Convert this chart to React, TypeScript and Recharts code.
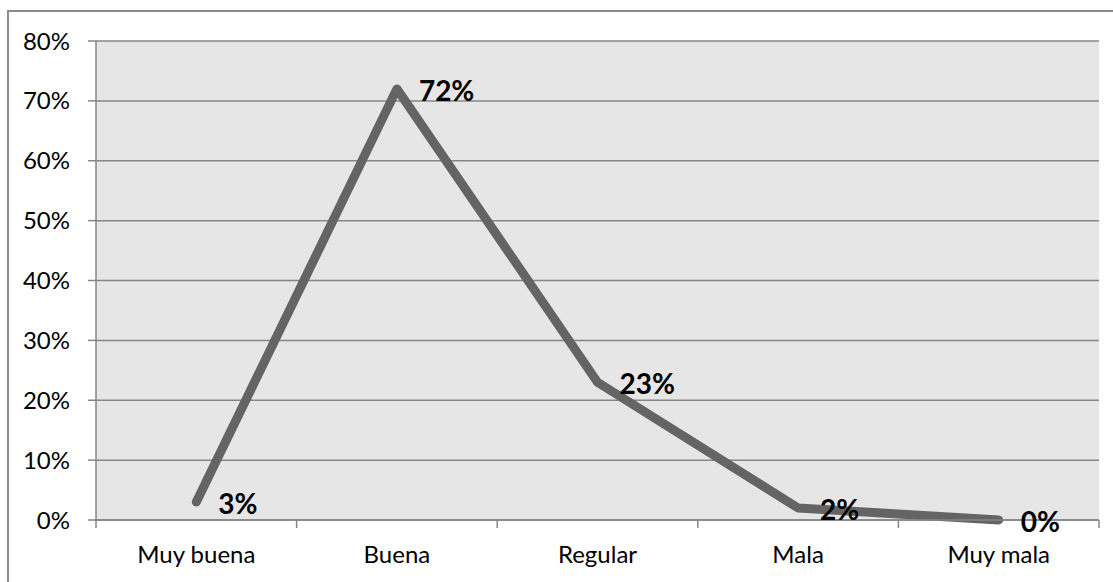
import { CartesianGrid, LabelList, Line, LineChart, XAxis, YAxis } from "recharts";

const categories = ["Muy buena", "Buena", "Regular", "Mala", "Muy mala"];
const shares = [3, 72, 23, 2, 0];
const yTicks = [0, 10, 20, 30, 40, 50, 60, 70, 80];

const data = categories.map((name, i) => ({ name, value: shares[i] }));

const WIDTH = 1113;
const HEIGHT = 582;
const margin = { top: 41, right: 14, bottom: 0, left: 36 };
const Y_AXIS_WIDTH = 60;
const X_AXIS_HEIGHT = 62;
const plotWidth = WIDTH - margin.left - margin.right - Y_AXIS_WIDTH;
const step = plotWidth / categories.length;

const gridColor = "#868686";
const font = "Lato, 'Open Sans', sans-serif";

// category ticks sit between the bands, not under the labels
function CategoryTick(props: any) {
  const { x, y, payload, index } = props;
  const left = x - step / 2;
  const right = x + step / 2;
  const top = y - 18;
  return (
    <g>
      <line x1={left} x2={left} y1={top - 8} y2={top} stroke={gridColor} strokeWidth={1.5} />
      {index === categories.length - 1 && (
        <line x1={right} x2={right} y1={top - 8} y2={top} stroke={gridColor} strokeWidth={1.5} />
      )}
      <text x={x} y={y} dy="0.71em" textAnchor="middle" fill="#000" fontSize={24} fontFamily={font}>
        {payload.value}
      </text>
    </g>
  );
}

function ValueLabel(props: any) {
  const { x, y, value } = props;
  return (
    <text
      x={x + 22}
      y={y + 1}
      dominantBaseline="central"
      fill="#000"
      fontSize={28}
      fontWeight={700}
      fontFamily={font}
    >
      {`${value}%`}
    </text>
  );
}

export default function App() {
  return (
    <div style={{ position: "absolute", left: 0, top: 0, width: WIDTH, height: HEIGHT, overflow: "hidden", background: "#fff" }}>
      <div
        style={{
          position: "absolute",
          left: 7,
          top: 10,
          width: WIDTH + 20,
          height: HEIGHT + 20,
          border: "2px solid #8a8a8a",
        }}
      />
      <div style={{ position: "absolute", left: 0, top: 0 }}>
        <LineChart width={WIDTH} height={HEIGHT} data={data} margin={margin}>
          <CartesianGrid vertical={false} fill="#e6e6e6" stroke={gridColor} strokeWidth={1.5} />
          <XAxis
            dataKey="name"
            scale="band"
            height={X_AXIS_HEIGHT}
            axisLine={{ stroke: gridColor, strokeWidth: 1.5 }}
            tickLine={false}
            tickMargin={18}
            tickSize={8}
            tick={<CategoryTick />}
            interval={0}
          />
          <YAxis
            width={Y_AXIS_WIDTH}
            domain={[0, 80]}
            ticks={yTicks}
            interval={0}
            tickFormatter={(v: number) => `${v}%`}
            axisLine={{ stroke: gridColor, strokeWidth: 1.5 }}
            tickLine={{ stroke: gridColor, strokeWidth: 1.5 }}
            tickSize={8}
            tickMargin={18}
            tick={{ fill: "#000", fontSize: 24, fontFamily: font }}
          />
          <Line
            type="linear"
            dataKey="value"
            stroke="#646464"
            strokeWidth={9}
            strokeLinecap="round"
            strokeLinejoin="round"
            dot={false}
            activeDot={false}
            isAnimationActive={false}
          >
            <LabelList dataKey="value" content={<ValueLabel />} />
          </Line>
        </LineChart>
      </div>
    </div>
  );
}
